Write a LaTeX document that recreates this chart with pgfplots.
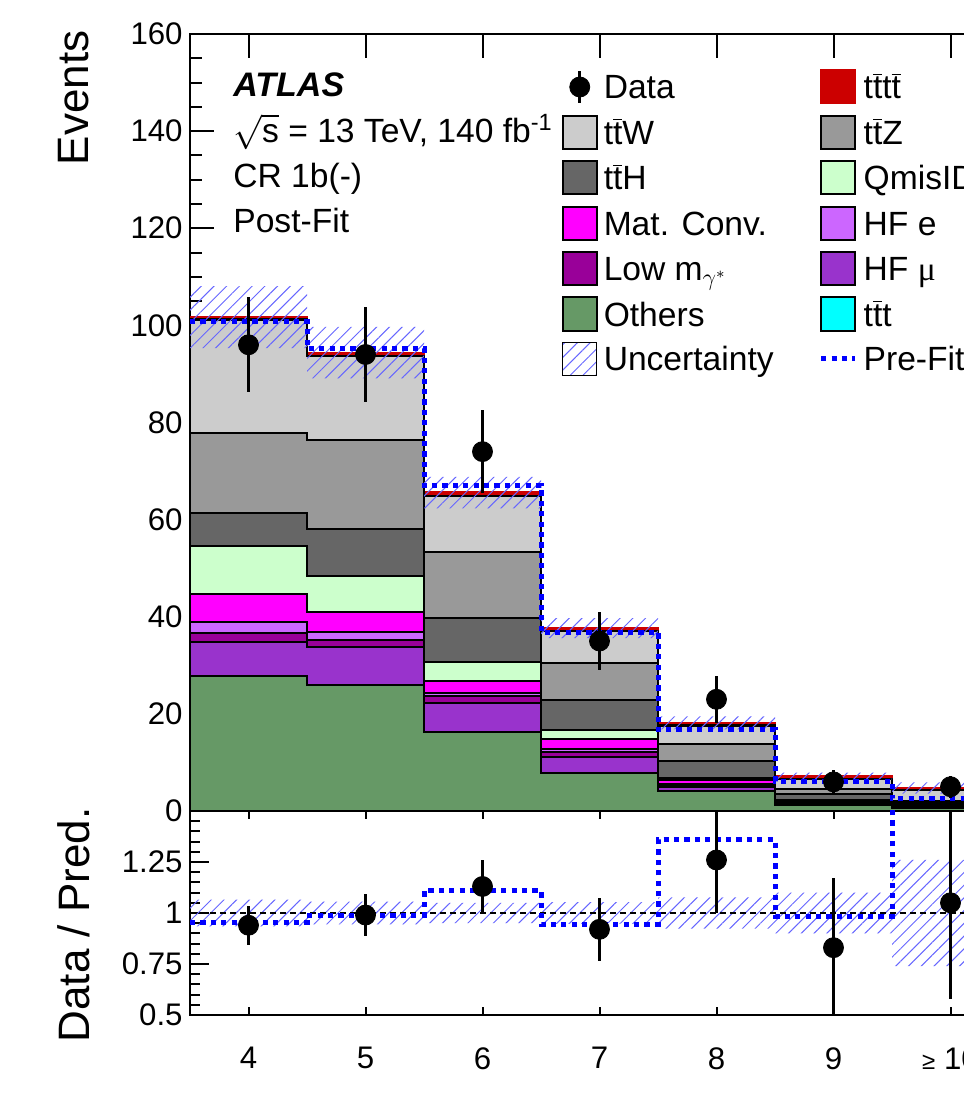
\documentclass[border=0pt]{standalone}
\usepackage{fontspec}
\setmainfont{Liberation Sans}
\newfontfamily\serifgreek{Liberation Serif}
\usepackage{pgfplots}
\pgfplotsset{compat=1.18}
\usepackage{pgfplotstable}
\usetikzlibrary{patterns.meta}
\usepgfplotslibrary{fillbetween}

\definecolor{cTTW}{HTML}{CCCCCC}
\definecolor{cTTZ}{HTML}{999999}
\definecolor{cTTH}{HTML}{666666}
\definecolor{cQMIS}{HTML}{CCFFCC}
\definecolor{cMAT}{HTML}{FF00FF}
\definecolor{cHFE}{HTML}{CC66FF}
\definecolor{cLOWM}{HTML}{990099}
\definecolor{cHFMU}{HTML}{9933CC}
\definecolor{cOTH}{HTML}{669966}
\definecolor{cTTT}{HTML}{00FFFF}
\definecolor{cTTTT}{HTML}{CC0000}
\definecolor{cHatch}{HTML}{6666FF}

\newcommand\tb{\ensuremath{\overline{\mbox{t}}}}
\newcommand\boxleg[2]{\addlegendimage{legend image code/.code={\draw[fill=#1,draw=#2,line width=1pt] (0pt,-8.25pt) rectangle (17pt,8.25pt);}}}

% cumulative tops of the stacked post-fit histograms (left bin edges)
\pgfplotstableread{
edge others hfmu lowm hfe mat qmis tth ttz ttw ttt tttt prefit ulo uhi
3.5 27.7 34.9 36.7 38.9 44.6 54.6 61.4 77.9 101.2 101.25 101.8 100.8 95.3 108.1
4.5 25.9 33.8 35.2 36.9 41.0 48.4 58.0 76.4 93.7 93.75 94.4 95.3 89.1 99.7
5.5 16.3 22.3 23.7 24.3 26.8 30.7 39.8 53.4 64.8 64.85 65.6 67.1 62.3 68.8
6.5 7.8 11.2 12.2 12.7 14.8 16.7 22.9 30.4 37.0 37.05 37.6 36.8 35.6 39.7
7.5 4.1 4.9 5.3 5.6 6.3 6.8 10.2 13.7 17.6 17.65 18.2 16.8 16.8 19.5
8.5 1.2 1.6 1.75 1.85 2.05 2.3 3.4 4.5 6.5 6.55 7.2 6.1 6.5 7.9
9.5 0.55 0.8 0.9 0.95 1.1 1.3 1.7 2.05 4.3 4.35 4.75 2.5 3.6 5.9
10.5 0.55 0.8 0.9 0.95 1.1 1.3 1.7 2.05 4.3 4.35 4.75 2.5 3.6 5.9
}\stack

\pgfplotstableread{
x data err
4 96 9.8
5 94 9.7
6 74 8.6
7 35 5.9
8 23 4.8
9 6 2.45
10 5 2.24
}\datamain

\pgfplotstableread{
x r err
4 0.94 0.095
5 0.99 0.105
6 1.13 0.13
7 0.92 0.155
8 1.26 0.26
9 0.83 0.34
10 1.05 0.47
}\dataratio

\pgfplotstableread{
edge prefit ulo uhi
3.5 0.953 0.935 1.065
4.5 0.99 0.944 1.056
5.5 1.11 0.95 1.05
6.5 0.945 0.947 1.053
7.5 1.36 0.923 1.077
8.5 0.985 0.90 1.10
9.5 1.95 0.74 1.26
10.5 1.95 0.74 1.26
}\ratiostep

\pgfplotsset{
  /tikz/fill between/on layer=main,
  histo/.style={const plot, line width=1pt, draw=black, forget plot},
  common/.style={
    scale only axis, width=409.5pt,
    xmin=3.5, xmax=10.5,
    xtick={4,...,10},
    tick align=inside,
    axis line style={line width=1pt},
    tick style={line width=1pt, black},
    /pgf/number format/assume math mode=true,
    tick label style={font=\fontsize{15.6}{18}\selectfont},
    yticklabel style={inner sep=0pt, xshift=-3.5pt},
    label style={font=\fontsize{22}{26}\selectfont, inner sep=0pt},
  },
}

\begin{document}
\begin{tikzpicture}
\begin{axis}[common,
  at={(0,0)}, anchor=south west,
  height=388.5pt,
  ymin=0, ymax=160,
  ytick={0,20,...,160},
  minor y tick num=3,
  xticklabels={},
  major tick length=12pt, minor tick length=6pt,
  ylabel={Events},
  ylabel style={at={(axis description cs:-0.1416,1.005)}, anchor=east},
  legend columns=2,
  legend cell align=left,
  legend style={at={(axis description cs:0.4539,0.9543)}, anchor=north west,
    draw=none, fill=none, inner sep=0pt, outer sep=0pt,
    font=\fontsize{16.8}{20}\selectfont,
    nodes={inner sep=0pt, text height=12pt, text depth=0pt},
    row sep=5.2pt,
    /tikz/every odd column/.append style={column sep=3pt},
    /tikz/every even column/.append style={column sep=22.5pt}},
]
\addplot[histo, fill=cTTTT, draw=cTTTT] table[x=edge,y=tttt]{\stack} \closedcycle;
\addplot[histo, fill=cTTT] table[x=edge,y=ttt]{\stack} \closedcycle;
\addplot[histo, fill=cTTW] table[x=edge,y=ttw]{\stack} \closedcycle;
\addplot[histo, fill=cTTZ] table[x=edge,y=ttz]{\stack} \closedcycle;
\addplot[histo, fill=cTTH] table[x=edge,y=tth]{\stack} \closedcycle;
\addplot[histo, fill=cQMIS] table[x=edge,y=qmis]{\stack} \closedcycle;
\addplot[histo, fill=cMAT] table[x=edge,y=mat]{\stack} \closedcycle;
\addplot[histo, fill=cHFE] table[x=edge,y=hfe]{\stack} \closedcycle;
\addplot[histo, fill=cLOWM] table[x=edge,y=lowm]{\stack} \closedcycle;
\addplot[histo, fill=cHFMU] table[x=edge,y=hfmu]{\stack} \closedcycle;
\addplot[histo, fill=cOTH] table[x=edge,y=others]{\stack} \closedcycle;

\addplot[const plot, draw=none, name path=uhi, forget plot] table[x=edge,y=uhi]{\stack};
\addplot[const plot, draw=none, name path=ulo, forget plot] table[x=edge,y=ulo]{\stack};
\addplot[pattern={Lines[angle=45,distance=4.5pt,line width=0.5pt]}, pattern color=cHatch, draw=none, forget plot] fill between[of=uhi and ulo];

\addplot[const plot, draw=blue, line width=2.5pt, dash pattern=on 2.6pt off 2.6pt, forget plot] table[x=edge,y=prefit]{\stack};

\addplot[only marks, mark=*, mark size=5pt, black, forget plot,
  error bars/.cd, y dir=both, y explicit, error mark=none,
  error bar style={line width=1.5pt, black}]
  table[x=x, y=data, y error=err]{\datamain};

\node[anchor=base west, inner sep=0pt, font=\fontsize{17}{20}\selectfont\bfseries\itshape] at (axis description cs:0.0525,0.919) {ATLAS};
\node[anchor=base west, inner sep=0pt, font=\fontsize{16.8}{20}\selectfont] at (axis description cs:0.0525,0.860) {$\sqrt{\mbox{s}}$ = 13 TeV, 140 fb\textsuperscript{-1}};
\node[anchor=base west, inner sep=0pt, font=\fontsize{16.8}{20}\selectfont] at (axis description cs:0.0525,0.803) {CR 1b(-)};
\node[anchor=base west, inner sep=0pt, font=\fontsize{16.8}{20}\selectfont] at (axis description cs:0.0525,0.745) {Post-Fit};

\addlegendimage{legend image code/.code={\path (0pt,0pt) (17pt,0pt); \draw[black, line width=1.5pt] (8.5pt,-8pt) -- (8.5pt,8pt); \fill[black] (8.5pt,0pt) circle (5pt);}}
\addlegendentry{Data}
\boxleg{cTTTT}{cTTTT}\addlegendentry{t\tb t\tb}
\boxleg{cTTW}{black}\addlegendentry{t\tb W}
\boxleg{cTTZ}{black}\addlegendentry{t\tb Z}
\boxleg{cTTH}{black}\addlegendentry{t\tb H}
\boxleg{cQMIS}{black}\addlegendentry{QmisID}
\boxleg{cMAT}{black}\addlegendentry{Mat. Conv.}
\boxleg{cHFE}{black}\addlegendentry{HF e}
\boxleg{cLOWM}{black}\addlegendentry{Low m$_{\gamma^{*}}$}
\boxleg{cHFMU}{black}\addlegendentry{HF {\serifgreek μ}}
\boxleg{cOTH}{black}\addlegendentry{Others}
\boxleg{cTTT}{black}\addlegendentry{t\tb t}
\addlegendimage{legend image code/.code={\fill[pattern={Lines[angle=45,distance=4.5pt,line width=0.5pt]}, pattern color=cHatch] (0pt,-8.25pt) rectangle (17pt,8.25pt);}}
\addlegendentry{Uncertainty}
\addlegendimage{legend image code/.code={\draw[blue, line width=2.5pt, dash pattern=on 2.6pt off 2.6pt] (0pt,0pt) -- (17pt,0pt);}}
\addlegendentry{Pre-Fit}
\end{axis}

\begin{axis}[common,
  at={(0,0)}, anchor=north west,
  height=102pt,
  ymin=0.5, ymax=1.5,
  ytick={0.5,0.75,1,1.25,1.5},
  yticklabels={0.5,0.75,1,1.25,{}},
  minor y tick num=4,
  major tick length=9.5pt, minor tick length=5pt,
  xtick style={/pgfplots/major tick length=4pt},
  xticklabels={4,5,6,7,8,9,{{\fontsize{12}{12}\selectfont ≥} 10}},
  xticklabel style={inner sep=0pt, anchor=north, yshift=-16pt},
  ylabel={Data / Pred.},
  ylabel style={at={(axis description cs:-0.1416,0.441)}, anchor=center},
]
\addplot[const plot, draw=none, name path=rhi, forget plot] table[x=edge,y=uhi]{\ratiostep};
\addplot[const plot, draw=none, name path=rlo, forget plot] table[x=edge,y=ulo]{\ratiostep};
\addplot[pattern={Lines[angle=45,distance=4.5pt,line width=0.5pt]}, pattern color=cHatch, draw=none, forget plot] fill between[of=rhi and rlo];
\addplot[black, line width=1pt, dash pattern=on 3pt off 2pt, forget plot] coordinates {(3.5,1) (10.5,1)};
\addplot[const plot, draw=blue, line width=2.5pt, dash pattern=on 2.6pt off 2.6pt, forget plot] table[x=edge,y=prefit]{\ratiostep};
\addplot[only marks, mark=*, mark size=5pt, black, forget plot,
  error bars/.cd, y dir=both, y explicit, error mark=none,
  error bar style={line width=1.5pt, black}]
  table[x=x, y=r, y error=err]{\dataratio};
\end{axis}

\pgfresetboundingbox
\path[use as bounding box] (-95pt,-150pt) rectangle (386.5pt,405.5pt);
\end{tikzpicture}
\end{document}
